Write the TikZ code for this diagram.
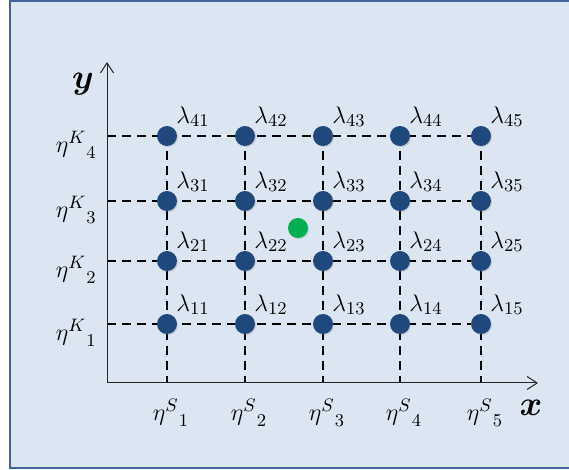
\documentclass[tikz,border=0pt]{standalone}
\usepackage{amsmath,amssymb}
\usepackage{xcolor}
\usepackage{tikz}
\usetikzlibrary{arrows.meta,positioning,shadows}
\definecolor{Frame}{HTML}{41649A}
\definecolor{Paper}{HTML}{DCE6F2}
\definecolor{Knot}{HTML}{1F497D}
\definecolor{Probe}{HTML}{00B050}
\definecolor{Ink}{HTML}{262626}
\pgfdeclarelayer{bg}
\pgfsetlayers{bg,main}

\begin{document}
\begin{tikzpicture}[x=0.5pt,y=-0.5pt,>={Straight Barb[length=5pt,width=6.5pt]},
  knot/.style={circle,fill=Knot,minimum size=10pt,inner sep=0pt,
    drop shadow={shadow xshift=0.5pt,shadow yshift=-0.6pt,opacity=0.25}},
  lam/.style={inner sep=0.8pt,font=\fontsize{12.5}{14}\selectfont},
  tick/.style={inner sep=1pt,font=\fontsize{12.5}{14}\selectfont},
  gridline/.style={black,line width=0.75pt,dash pattern=on 4.5pt off 3pt}]
  \useasboundingbox (0,0) rectangle (569,470);
  \clip (0,0) rectangle (569,470);
  \begin{pgfonlayer}{bg}
    \fill[white] (0,0) rectangle (569,470);
    \filldraw[fill=Paper,draw=Frame,line width=1pt] (10,1) rectangle (590,468);
  \end{pgfonlayer}
  % axes
  \coordinate (O) at (107,383);
  \coordinate (xend) at (538,383);
  \coordinate (yend) at (107,62);
  \draw[Ink,line width=0.5pt,->] (O) -- (xend);
  \draw[Ink,line width=0.5pt,->] (O) -- (yend);
  \node[font=\fontsize{16}{18}\selectfont] (ylab) at (83,84) {$\boldsymbol{y}$};
  \node[font=\fontsize{16}{18}\selectfont] (xlab) at (531,408) {$\boldsymbol{x}$};
  % knots lambda_{row col}
  \foreach \col/\px in {1/167,2/245,3/323,4/400,5/481}
    \foreach \row/\py in {1/324,2/261,3/201,4/136}
      \node[knot,label={[lam]45:$\lambda_{\row\col}$}] (l\row\col) at (\px,\py) {};
  % ticks on the axes
  \foreach \col/\px in {1/167,2/245,3/323,4/400,5/481} {
    \coordinate (s\col) at (\px,383);
    \node[tick,below=7pt of s\col,xshift=2pt] (es\col) {${\eta^{S}}_{\col}$};
    \begin{pgfonlayer}{bg}
      \draw[gridline] (l4\col.center) -- (s\col);
    \end{pgfonlayer}
  }
  \foreach \row/\py in {1/324,2/261,3/201,4/136} {
    \coordinate (k\row) at (107,\py);
    \node[tick,left=4pt of k\row,yshift=-4.5pt] (ek\row) {${\eta^{K}}_{\row}$};
    \begin{pgfonlayer}{bg}
      \draw[gridline] (k\row) -- (l\row5.center);
    \end{pgfonlayer}
  }
  % sample point
  \node[knot,fill=Probe] (probe) at (298,228) {};
\end{tikzpicture}
\end{document}
